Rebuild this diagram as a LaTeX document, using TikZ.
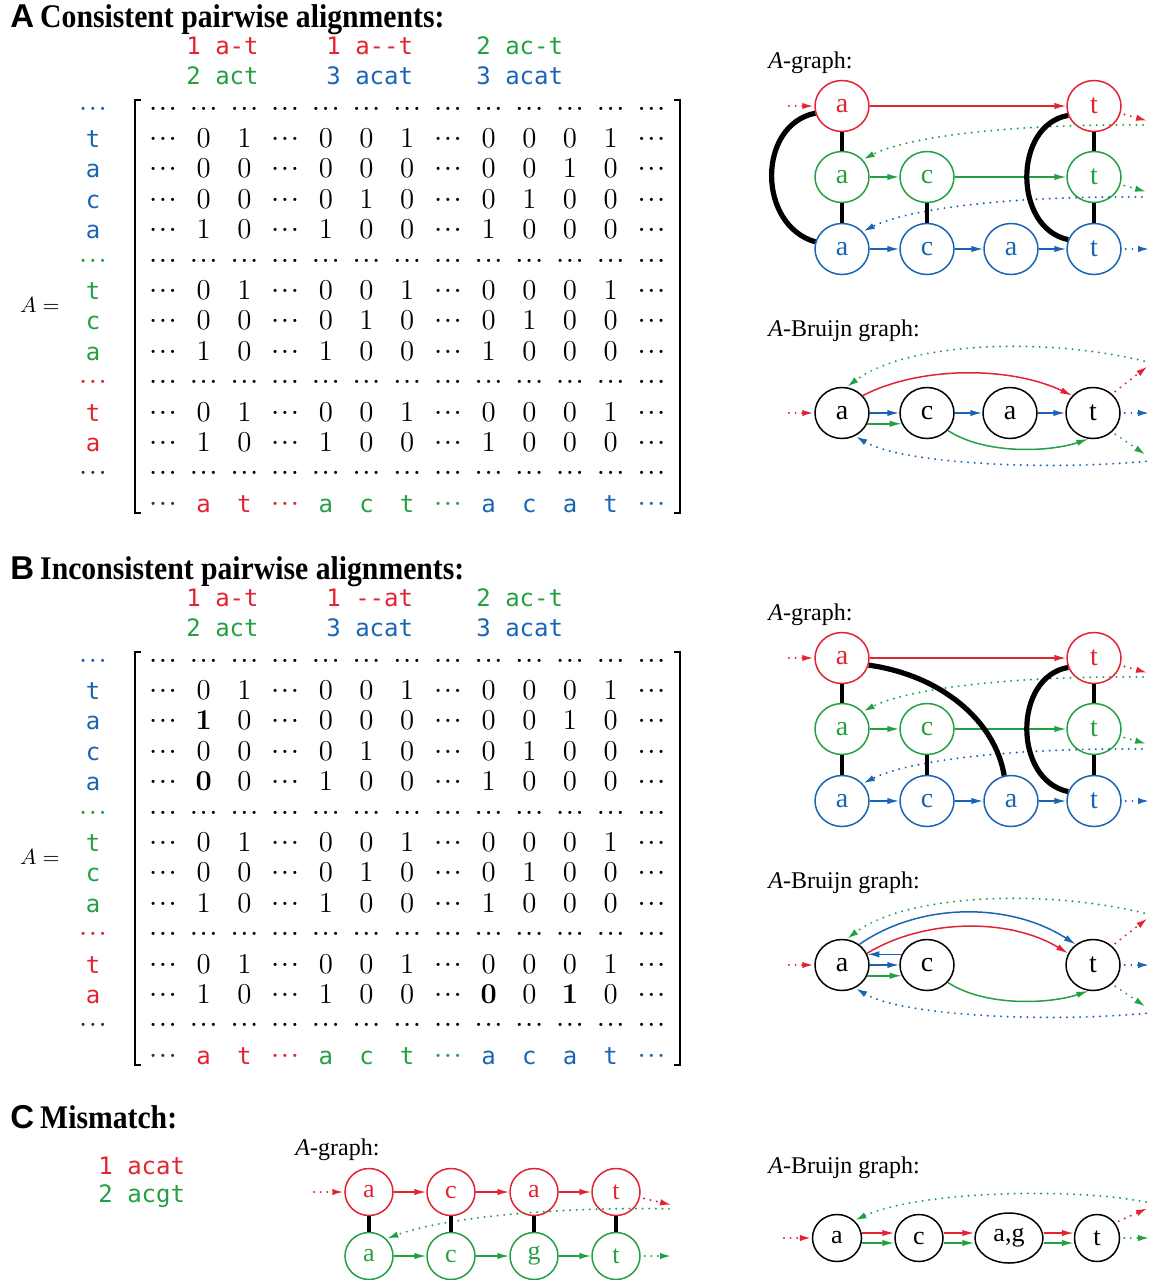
\documentclass[tikz,border=0pt]{standalone}
\usepackage[no-math]{fontspec}
\setmainfont{Liberation Serif}
\setmonofont{DejaVu Sans Mono}
\newfontfamily\sanf{Liberation Sans}
\newfontfamily\titf{Liberation Serif}[FakeStretch=0.9,BoldFeatures={FakeStretch=0.9}]
\usetikzlibrary{arrows.meta,shapes.geometric}
\definecolor{cr}{RGB}{226,35,50}
\definecolor{cg}{RGB}{35,160,65}
\definecolor{cb}{RGB}{25,100,180}
\definecolor{cd}{RGB}{50,50,50}
\newcommand\onedot{\makebox[4.9pt]{\textperiodcentered}}
\newcommand\md{\mbox{\fontsize{13}{13}\selectfont\onedot\onedot\onedot}}
\newcommand\mn[1]{{\ttfamily\fontsize{12}{14}\selectfont #1}}
\newcommand\mrow[4]{\foreach \v [count=\k from 0] in {#4}{\node[mat] (#1-#2-\k) at ({163+40.7*\k},{117+30.4*#2+#3}) {$\v$};}}
\newcommand\rlab[5]{\node[mat,text=#4] (#1-l#2) at (93,{117+30.4*#2+#3}) {#5};}
\newcommand\drawmat[5]{%
\rlab{#1}{0}{#2}{cb}{\md}\mrow{#1}{0}{#2}{\md,\md,\md,\md,\md,\md,\md,\md,\md,\md,\md,\md,\md}
\rlab{#1}{1}{#2}{cb}{\mn{t}}\mrow{#1}{1}{#2}{\md,0,1,\md,0,0,1,\md,0,0,0,1,\md}
\rlab{#1}{2}{#2}{cb}{\mn{a}}\mrow{#1}{2}{#2}{#3}
\rlab{#1}{3}{#2}{cb}{\mn{c}}\mrow{#1}{3}{#2}{\md,0,0,\md,0,1,0,\md,0,1,0,0,\md}
\rlab{#1}{4}{#2}{cb}{\mn{a}}\mrow{#1}{4}{#2}{#4}
\rlab{#1}{5}{#2}{cg}{\md}\mrow{#1}{5}{#2}{\md,\md,\md,\md,\md,\md,\md,\md,\md,\md,\md,\md,\md}
\rlab{#1}{6}{#2}{cg}{\mn{t}}\mrow{#1}{6}{#2}{\md,0,1,\md,0,0,1,\md,0,0,0,1,\md}
\rlab{#1}{7}{#2}{cg}{\mn{c}}\mrow{#1}{7}{#2}{\md,0,0,\md,0,1,0,\md,0,1,0,0,\md}
\rlab{#1}{8}{#2}{cg}{\mn{a}}\mrow{#1}{8}{#2}{\md,1,0,\md,1,0,0,\md,1,0,0,0,\md}
\rlab{#1}{9}{#2}{cr}{\md}\mrow{#1}{9}{#2}{\md,\md,\md,\md,\md,\md,\md,\md,\md,\md,\md,\md,\md}
\rlab{#1}{10}{#2}{cr}{\mn{t}}\mrow{#1}{10}{#2}{\md,0,1,\md,0,0,1,\md,0,0,0,1,\md}
\rlab{#1}{11}{#2}{cr}{\mn{a}}\mrow{#1}{11}{#2}{#5}
\rlab{#1}{12}{#2}{cd}{\md}\mrow{#1}{12}{#2}{\md,\md,\md,\md,\md,\md,\md,\md,\md,\md,\md,\md,\md}
\foreach \cc/\v [count=\k from 0] in {cd/\md,cr/\mn{a},cr/\mn{t},cr/\md,cg/\mn{a},cg/\mn{c},cg/\mn{t},cg/\md,cb/\mn{a},cb/\mn{c},cb/\mn{a},cb/\mn{t},cb/\md}{\node[mat,text=\cc] (#1-13-\k) at ({163+40.7*\k},{117+30.4*13+#2}) {\v};}
\draw[line width=1.2pt] (141,{100+#2}) -- (135,{100+#2}) -- (135,{513+#2}) -- (141,{513+#2});
\draw[line width=1.2pt] (674,{100+#2}) -- (680,{100+#2}) -- (680,{513+#2}) -- (674,{513+#2});
\node (#1-eq) at (40,{305+#2}) {\fontsize{11}{13}\selectfont $A=$};
}
\newcommand\agraph[1]{%
\node[lab] (#1-lab) at (768,68) {\textit{A}-graph:};
\node[nr] (#1-ra) at (842,106) {a};
\node[nr] (#1-rt) at (1094,106) {t};
\node[ng] (#1-ga) at (842,177) {a};
\node[ng] (#1-gc) at (927,177) {c};
\node[ng] (#1-gt) at (1094,177) {t};
\node[nb] (#1-ba) at (842,249) {a};
\node[nb] (#1-bc) at (927,249) {c};
\node[nb] (#1-ba2) at (1011,249) {a};
\node[nb] (#1-bt) at (1094,249) {t};
\coordinate (#1-rin) at (785,106);
\coordinate (#1-rout) at (1148,121);
\coordinate (#1-gw) at (1147,125);
\coordinate (#1-gout) at (1147,192);
\coordinate (#1-bw) at (1146,197);
\coordinate (#1-bout) at (1150,249);
\draw[dotl,cr] (#1-rin) -- (#1-ra);
\draw[dotl,cr] (#1-rt) -- (#1-rout);
\draw[dotl,cg] (#1-gw) .. controls (1000,124) and (905,138) .. (#1-ga.40);
\draw[dotl,cg] (#1-gt) -- (#1-gout);
\draw[dotl,cb] (#1-bw) .. controls (1000,196) and (905,210) .. (#1-ba.40);
\draw[dotl,cb] (#1-bt) -- (#1-bout);
\draw[edg,cr] (#1-ra) -- (#1-rt);
\draw[edg,cg] (#1-ga) -- (#1-gc);
\draw[edg,cg] (#1-gc) -- (#1-gt);
\draw[edg,cb] (#1-ba) -- (#1-bc);
\draw[edg,cb] (#1-bc) -- (#1-ba2);
\draw[edg,cb] (#1-ba2) -- (#1-bt);
\draw[vbar] (#1-ra) -- (#1-ga);
\draw[vbar] (#1-ga) -- (#1-ba);
\draw[vbar] (#1-gc) -- (#1-bc);
\draw[vbar] (#1-rt) -- (#1-gt);
\draw[vbar] (#1-gt) -- (#1-bt);
\draw[arcb] (#1-rt.200) .. controls (1013,125) and (1013,228) .. (#1-bt.160);
}
\newcommand\bdots[1]{%
\coordinate (#1-rin) at (785,413);
\coordinate (#1-gw) at (1148,362);
\coordinate (#1-rout) at (1148,366);
\coordinate (#1-bout) at (1150,413);
\coordinate (#1-gout) at (1146,455);
\coordinate (#1-bw) at (1150,461);
\draw[dotl,cr] (#1-rin) -- (#1-a);
\draw[dotl,cg] (#1-gw) .. controls (1040,336) and (905,343) .. (#1-a.80);
\draw[dotl,cr] (#1-t.45) -- (#1-rout);
\draw[dotl,cb] (#1-t) -- (#1-bout);
\draw[dotl,cg] (#1-t.-45) -- (#1-gout);
\draw[dotl,cb] (#1-bw) .. controls (1040,471) and (900,463) .. (#1-a.-60);
\draw[edg,cg] (#1-c.-40) .. controls (985,455) and (1050,452) .. (#1-t.-100);
}
\begin{document}
\begin{tikzpicture}[x=0.5pt,y=-0.5pt,
 arrtip/.style={-{Latex[length=6pt,width=3.2pt]}},
 edg/.style={arrtip,line width=0.75pt},
 dotl/.style={arrtip,line width=1.1pt,line cap=round,dash pattern=on 0pt off 3.3pt,shorten <=2pt},
 vbar/.style={line width=2pt,black},
 arcb/.style={line width=2.6pt,black},
 gnode/.style={ellipse,draw,line width=0.75pt,minimum width=27pt,minimum height=25.5pt,inner sep=0pt,font=\fontsize{14}{14}\selectfont},
 nr/.style={gnode,draw=cr,text=cr},
 ng/.style={gnode,draw=cg,text=cg},
 nb/.style={gnode,draw=cb,text=cb},
 nk/.style={gnode,draw=black,text=black},
 snode/.style={gnode,minimum width=24pt,minimum height=23.5pt,font=\fontsize{13}{13}\selectfont},
 sr/.style={snode,draw=cr,text=cr},
 sg/.style={snode,draw=cg,text=cg},
 sk/.style={snode,draw=black,text=black},
 mat/.style={font=\fontsize{14}{16}\selectfont,inner sep=0pt,anchor=base},
 mono/.style={font=\ttfamily\fontsize{12}{14}\selectfont,inner sep=0pt,anchor=west},
 lab/.style={font=\fontsize{12}{14}\selectfont,anchor=base west,inner sep=0pt},
 ttl/.style={anchor=base west,inner sep=0pt}]
\useasboundingbox (0,0) rectangle (1155,1280);
% ---------- A ----------
\node[ttl] (tA) at (10,27) {{\sanf\bfseries\fontsize{16.5}{18}\selectfont A}\hspace{3pt}{\titf\bfseries\fontsize{16.5}{18}\selectfont Consistent pairwise alignments:}};
\node[mono,text=cr] (A-al1) at (186,46) {1 a-t};
\node[mono,text=cg] (A-al2) at (186,76) {2 act};
\node[mono,text=cr] (A-al3) at (326,46) {1 a--t};
\node[mono,text=cb] (A-al4) at (326,76) {3 acat};
\node[mono,text=cg] (A-al5) at (476,46) {2 ac-t};
\node[mono,text=cb] (A-al6) at (476,76) {3 acat};
\drawmat{MA}{0}{\md,0,0,\md,0,0,0,\md,0,0,1,0,\md}{\md,1,0,\md,1,0,0,\md,1,0,0,0,\md}{\md,1,0,\md,1,0,0,\md,1,0,0,0,\md}
\agraph{GA}
\draw[arcb] (GA-ra.195) .. controls (757,125) and (757,225) .. (GA-ba.165);
% A-Bruijn A
\node[lab] (BA-lab) at (768,336) {\textit{A}-Bruijn graph:};
\node[nk] (BA-a) at (842,413) {a};
\node[nk] (BA-c) at (927,413) {c};
\node[nk] (BA-a2) at (1010,413) {a};
\node[nk] (BA-t) at (1093,413) {t};
\bdots{BA}
\draw[edg,cb] (BA-a) -- (BA-c);
\draw[edg,cb] (BA-c) -- (BA-a2);
\draw[edg,cb] (BA-a2) -- (BA-t);
\draw[edg,cg] (BA-a.-23) -- (BA-c.203);
\draw[edg,cr] (BA-a.40) .. controls (920,366) and (1010,366) .. (BA-t.140);
% ---------- B ----------
\node[ttl] (tB) at (10,579) {{\sanf\bfseries\fontsize{16.5}{18}\selectfont B}\hspace{3pt}{\titf\bfseries\fontsize{16.5}{18}\selectfont Inconsistent pairwise alignments:}};
\node[mono,text=cr] (B-al1) at (186,598) {1 a-t};
\node[mono,text=cg] (B-al2) at (186,628) {2 act};
\node[mono,text=cr] (B-al3) at (326,598) {1 --at};
\node[mono,text=cb] (B-al4) at (326,628) {3 acat};
\node[mono,text=cg] (B-al5) at (476,598) {2 ac-t};
\node[mono,text=cb] (B-al6) at (476,628) {3 acat};
\drawmat{MB}{552}{\md,\mathbf{1},0,\md,0,0,0,\md,0,0,1,0,\md}{\md,\mathbf{0},0,\md,1,0,0,\md,1,0,0,0,\md}{\md,1,0,\md,1,0,0,\md,\mathbf{0},0,\mathbf{1},0,\md}
\begin{scope}[shift={(0,552)}]
\agraph{GB}
\draw[arcb] (GB-ra.-15) .. controls (940,123) and (995,168) .. (GB-ba2.105);
\node[lab] (BB-lab) at (768,336) {\textit{A}-Bruijn graph:};
\node[nk] (BB-a) at (842,413) {a};
\node[nk] (BB-c) at (927,413) {c};
\node[nk] (BB-t) at (1093,413) {t};
\bdots{BB}
\draw[edg,cb] (BB-c.157) -- (BB-a.23);
\draw[edg,cb] (BB-a) -- (BB-c);
\draw[edg,cg] (BB-a.-23) -- (BB-c.203);
\draw[edg,cb] (BB-a.50) .. controls (920,350) and (1010,350) .. (BB-t.130);
\draw[edg,cr] (BB-a.25) .. controls (925,366) and (1010,366) .. (BB-t.155);
\end{scope}
% ---------- C ----------
\node[ttl] (tC) at (10,1128) {{\sanf\bfseries\fontsize{16.5}{18}\selectfont C}\hspace{3pt}{\titf\bfseries\fontsize{16.5}{18}\selectfont Mismatch:}};
\node[mono,text=cr] (C-al1) at (98,1166) {1 acat};
\node[mono,text=cg] (C-al2) at (98,1196) {2 acgt};
\node[lab] (CG-lab) at (295,1155) {\textit{A}-graph:};
\node[sr] (CG-ra) at (369,1192) {a};
\node[sr] (CG-rc) at (451,1192) {c};
\node[sr] (CG-ra2) at (534,1192) {a};
\node[sr] (CG-rt) at (616,1192) {t};
\node[sg] (CG-ga) at (369,1256) {a};
\node[sg] (CG-gc) at (451,1256) {c};
\node[sg] (CG-gg) at (534,1256) {g};
\node[sg] (CG-gt) at (616,1256) {t};
\coordinate (CG-rin) at (310,1192);
\coordinate (CG-rout) at (672,1205);
\coordinate (CG-gw) at (673,1209);
\coordinate (CG-gout) at (672,1256);
\draw[dotl,cr] (CG-rin) -- (CG-ra);
\draw[dotl,cr] (CG-rt) -- (CG-rout);
\draw[dotl,cg] (CG-gw) .. controls (600,1207) and (460,1212) .. (CG-ga.45);
\draw[dotl,cg] (CG-gt) -- (CG-gout);
\draw[edg,cr] (CG-ra) -- (CG-rc);
\draw[edg,cr] (CG-rc) -- (CG-ra2);
\draw[edg,cr] (CG-ra2) -- (CG-rt);
\draw[edg,cg] (CG-ga) -- (CG-gc);
\draw[edg,cg] (CG-gc) -- (CG-gg);
\draw[edg,cg] (CG-gg) -- (CG-gt);
\draw[vbar,line width=1.7pt] (CG-ra) -- (CG-ga);
\draw[vbar,line width=1.7pt] (CG-rc) -- (CG-gc);
\draw[vbar,line width=1.7pt] (CG-ra2) -- (CG-gg);
\draw[vbar,line width=1.7pt] (CG-rt) -- (CG-gt);
% C Bruijn
\node[lab] (CB-lab) at (768,1173) {\textit{A}-Bruijn graph:};
\node[sk,minimum width=24.5pt] (CB-a) at (837,1238) {a};
\node[sk] (CB-c) at (919,1238) {c};
\node[sk,minimum width=34pt,minimum height=25pt] (CB-ag) at (1009,1238) {a,g};
\node[sk,minimum width=22.5pt] (CB-t) at (1097,1238) {t};
\coordinate (CB-rin) at (780,1238);
\coordinate (CB-rout) at (1148,1208);
\coordinate (CB-gout) at (1150,1238);
\coordinate (CB-gw) at (1150,1203);
\draw[dotl,cr] (CB-rin) -- (CB-a);
\draw[dotl,cr] (CB-t.40) -- (CB-rout);
\draw[dotl,cg] (CB-t) -- (CB-gout);
\draw[dotl,cg] (CB-gw) .. controls (1080,1188) and (920,1190) .. (CB-a.45);
\draw[edg,cr] ([yshift=2.5pt]CB-a.east) -- ([yshift=2.5pt]CB-c.west);
\draw[edg,cg] ([yshift=-2.5pt]CB-a.east) -- ([yshift=-2.5pt]CB-c.west);
\draw[edg,cr] ([yshift=2.5pt]CB-c.east) -- ([yshift=2.5pt]CB-ag.west);
\draw[edg,cg] ([yshift=-2.5pt]CB-c.east) -- ([yshift=-2.5pt]CB-ag.west);
\draw[edg,cr] ([yshift=2.5pt]CB-ag.east) -- ([yshift=2.5pt]CB-t.west);
\draw[edg,cg] ([yshift=-2.5pt]CB-ag.east) -- ([yshift=-2.5pt]CB-t.west);
\end{tikzpicture}
\end{document}
